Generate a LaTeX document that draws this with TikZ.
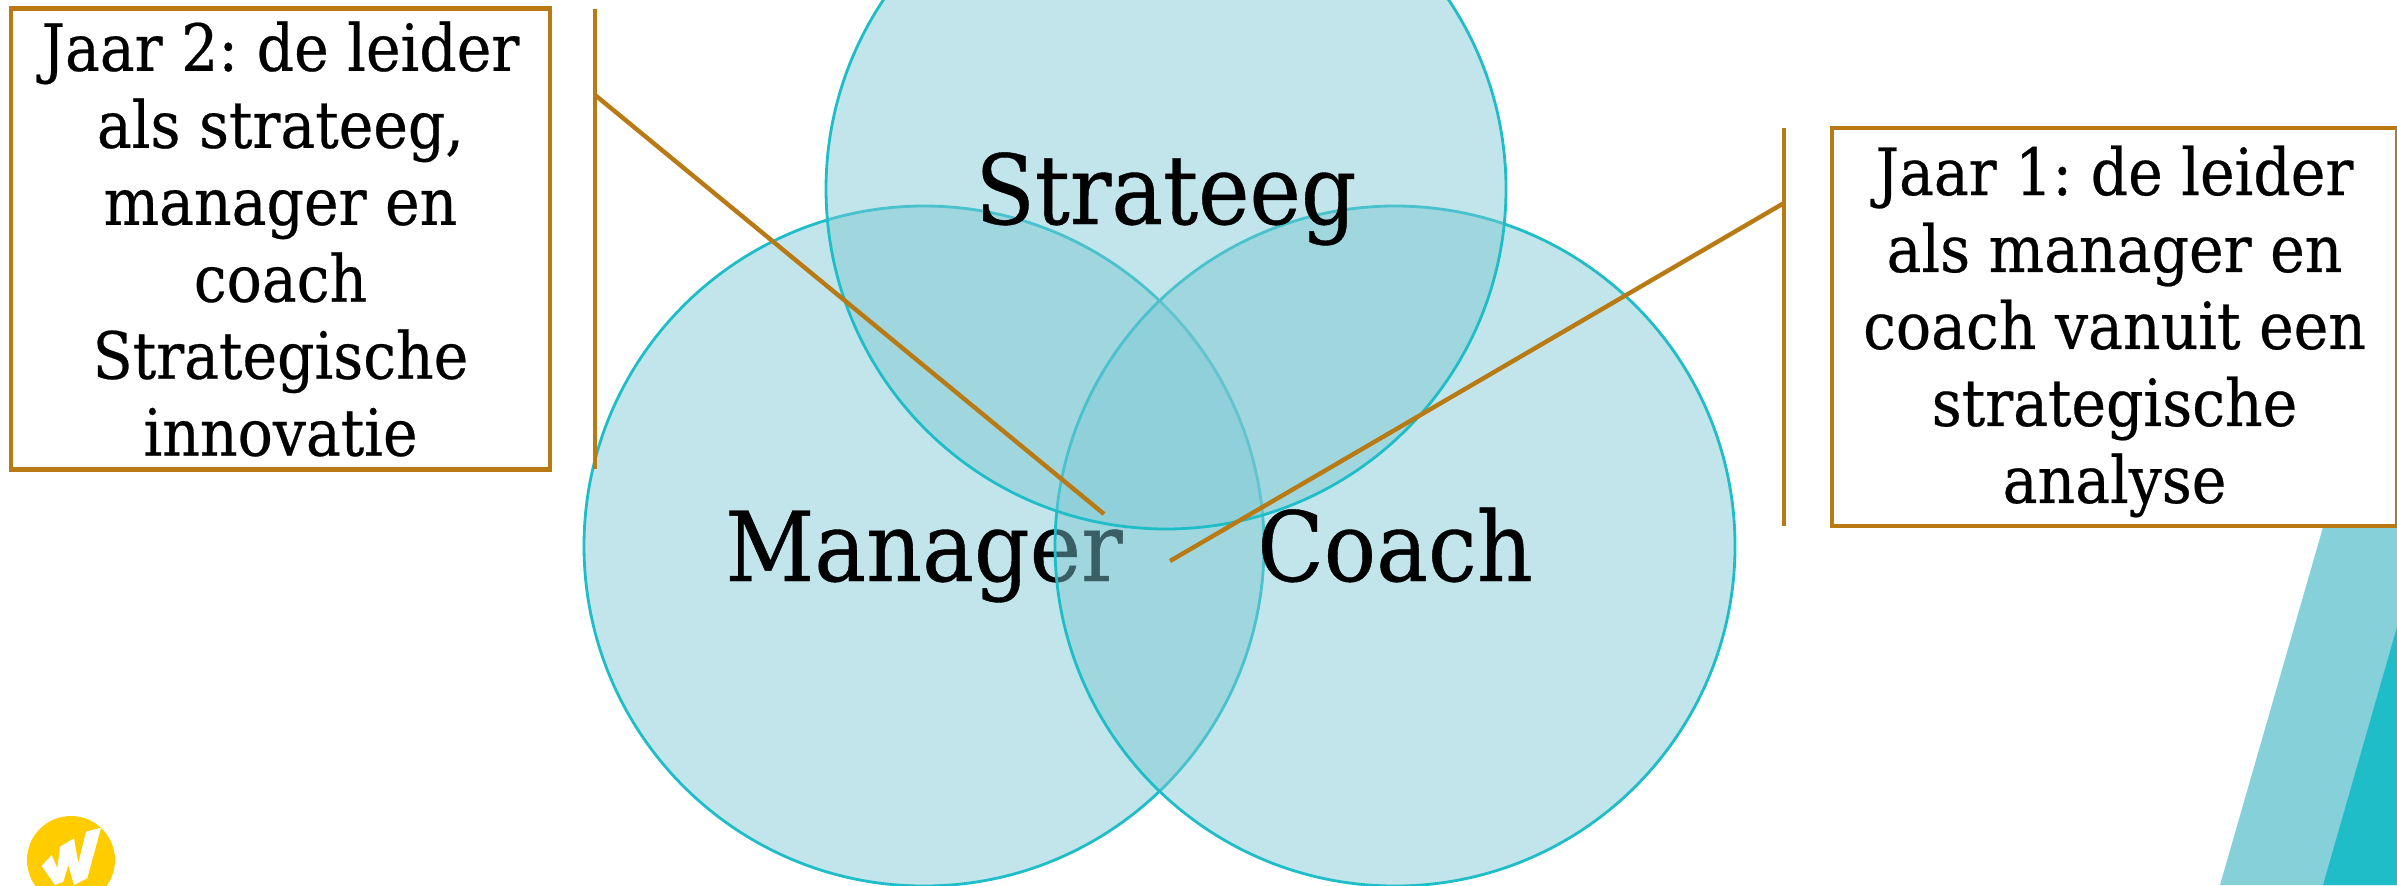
\documentclass[tikz,border=0pt]{standalone}
\usepackage{xcolor}
\usepackage{fontspec}
\setmainfont[FakeBold=0.4]{DejaVu Serif Condensed}
\frenchspacing
\usetikzlibrary{positioning}
\definecolor{tealfill}{HTML}{7BC8D3}
\definecolor{tealline}{HTML}{1FBDC8}
\definecolor{bandlight}{HTML}{85D0D9}
\definecolor{ochre}{HTML}{B97A14}
\definecolor{logoyellow}{HTML}{FFCC00}
\tikzset{
  role/.style={circle,draw=tealline,line width=0.8pt,fill=tealfill,fill opacity=0.47,
    text opacity=1,minimum size=6.8cm,inner sep=0pt,text height=0.85cm,text depth=0.15cm,
    font=\fontsize{27.5}{32}\selectfont},
  yearbox/.style={draw=ochre,line width=1.3pt,fill=white,align=center,inner sep=0pt,
    font=\fontsize{18.5}{21.9}\selectfont}
}
\begin{document}
\begin{tikzpicture}
        \clip (0,0) rectangle (23.97,8.85);
        \useasboundingbox (0,0) rectangle (23.97,8.85);
        % stripes and logo
        \fill[bandlight] (22.20,0) -- (24.10,6.60) -- (24.10,0) -- cycle;
        \fill[tealline] (23.23,0) -- (23.97,2.58) -- (23.97,0) -- cycle;
        \node[circle,fill=logoyellow,minimum size=0.88cm,inner sep=0pt] (logo) at (0.71,0.25) {};
        \fill[white] (0.417,0.19) -- (0.517,0.30) -- (0.573,0.167) -- (0.60,0.383) -- (0.74,0.467)
          -- (0.783,0.217) -- (0.86,0.533) -- (1.01,0.573) -- (0.873,0.067) -- (0.74,0)
          -- (0.683,0.20) -- (0.633,0.033) -- (0.55,0) -- cycle;
        % the three roles
        \node[role] (manager) at (9.24,3.39) {Manager};
        \node[role] (coach) at (13.95,3.39) {Coach};
        \node[role] (strateeg) at (11.66,6.96) {Strateeg};
        % year boxes
        \node[yearbox,minimum width=5.39cm,minimum height=4.61cm] (jaar2) at (2.805,6.46)
          {Jaar 2: de leider\\als strateeg,\\manager en\\coach\\Strategische\\innovatie};
        \node[yearbox,minimum width=5.65cm,minimum height=3.98cm] (jaar1) at (21.145,5.58)
          {\rule{0pt}{16.6pt}Jaar 1: de leider\\als manager en\\coach vanuit een\\strategische\\analyse};
        % callouts
        \coordinate (top2) at (5.95,8.76);
        \coordinate (bot2) at (5.95,4.16);
        \coordinate (mid2) at (5.95,7.90);
        \coordinate (end2) at (11.04,3.71);
        \coordinate (top1) at (17.84,7.57);
        \coordinate (bot1) at (17.84,3.59);
        \coordinate (mid1) at (17.84,6.82);
        \coordinate (end1) at (11.70,3.24);
        \begin{scope}[every edge/.style={draw=ochre,line width=1.25pt}]
          \path (top2) edge (bot2);
          \path (mid2) edge (end2);
          \path (top1) edge (bot1);
          \path (mid1) edge (end1);
        \end{scope}
      \end{tikzpicture}
\end{document}
